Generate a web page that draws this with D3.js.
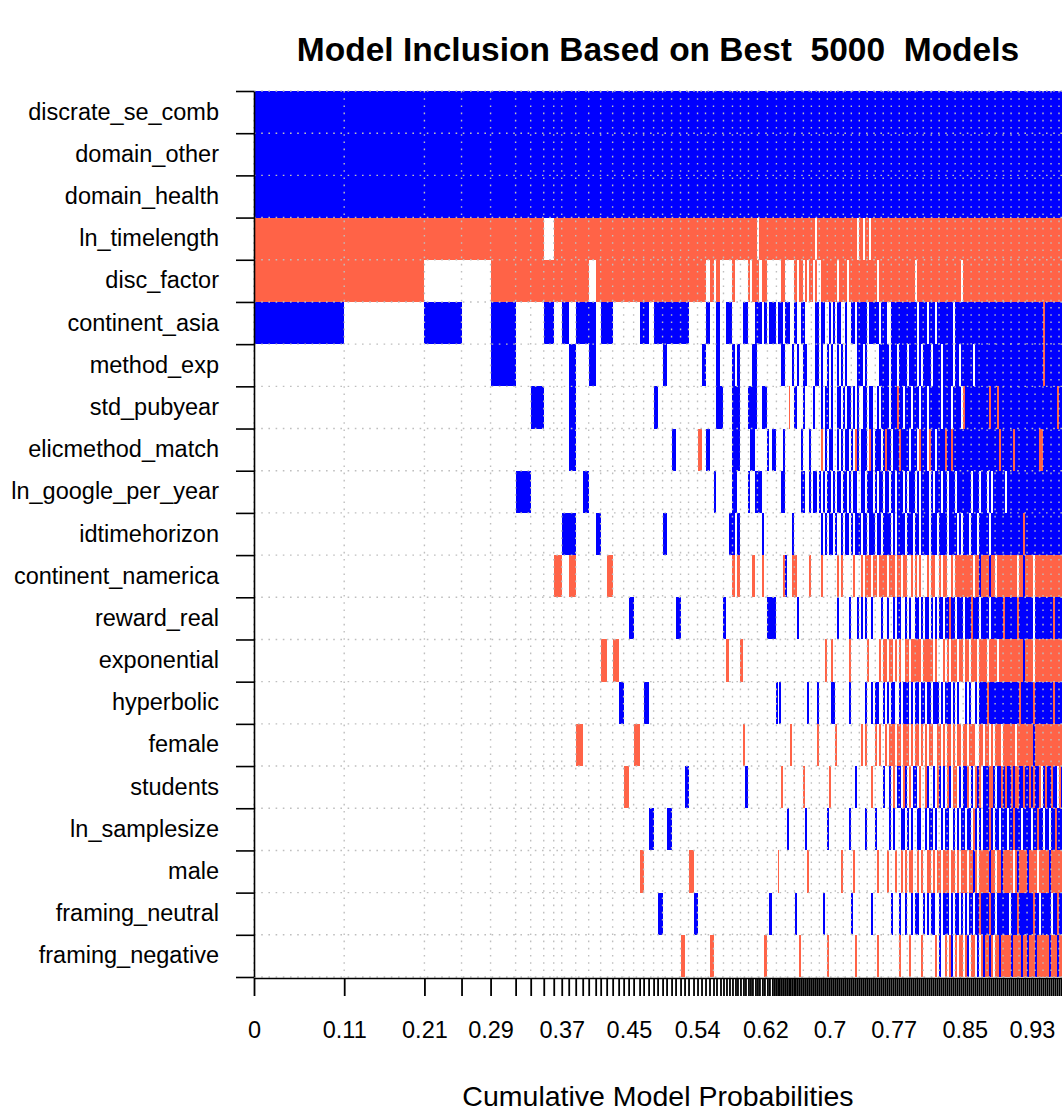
<!DOCTYPE html>
<html><head><meta charset="utf-8">
<script src="https://cdn.jsdelivr.net/npm/d3@7"></script>
<style>
body{margin:0;background:#fff}
text{font-family:"Liberation Sans",Arial,Helvetica,sans-serif;fill:#000}
</style>
</head><body>
<svg id="c" width="1062" height="1113"></svg>
<script>
// ---------------- data ----------------
const title = "Model Inclusion Based on Best  5000  Models";
const xTitle = "Cumulative Model Probabilities";

const variables = ["discrate_se_comb","domain_other","domain_health","ln_timelength","disc_factor",
  "continent_asia","method_exp","std_pubyear","elicmethod_match","ln_google_per_year","idtimehorizon",
  "continent_namerica","reward_real","exponential","hyperbolic","female","students","ln_samplesize",
  "male","framing_neutral","framing_negative"];

// posterior model probabilities of the individually visible best models
const pmpBest = [
 0.1084,0.0964,0.0446,0.0349,0.0301,0.0181,0.0157,0.0120,0.0096,0.0084,
 0.0084,0.0084,0.0072,0.0084,0.0060,0.0072,0.0072,0.0072,0.0060,0.0060,
 0.0060,0.0072,0.0048,0.0060,0.0060,0.0048,0.0060,0.0048,0.0060,0.0048,
 0.0060,0.0048,0.0048,0.0060,0.0048,0.0048,0.0048,0.0048,0.0048,0.0036,
 0.0048,0.0036,0.0036,0.0036,0.0036,0.0036,0.0024,0.0036,0.0036,0.0024,
 0.0036,0.0024,0.0024,0.0036,0.0024,0.0024,0.0036,0.0024,0.0036,0.0024,
 0.0036,0.0024,0.0024,0.0024,0.0012,0.0024,0.0024,0.0024,0.0024,0.0024,
 0.0012,0.0024,0.0024,0.0012,0.0024,0.0024,0.0024,0.0024,0.0024];

// remaining models, grouped into narrow slices of the tail
const pmpTail = [
 0.0024,0.0024,0.0024,0.0024,0.0024,0.0024,0.0024,0.0024,0.0024,0.0024,
 0.0024,0.0024,0.0024,0.0024,0.0024,0.0024,0.0024,0.0024,0.0024,0.0024,
 0.0024,0.0024,0.0024,0.0024,0.0024,0.0024,0.0024,0.0024,0.0024,0.0024,
 0.0024,0.0024,0.0024,0.0024,0.0024,0.0024,0.0024,0.0024,0.0024,0.0024,
 0.0024,0.0024,0.0024,0.0024,0.0024,0.0024,0.0024,0.0024,0.0024,0.0024,
 0.0024,0.0024,0.0024,0.0024,0.0024,0.0024,0.0024,0.0024,0.0024,0.0024,
 0.0024,0.0024,0.0024,0.0024,0.0024,0.0024,0.0024,0.0024,0.0024,0.0024,
 0.0024,0.0024,0.0024,0.0024,0.0024,0.0024,0.0024,0.0024,0.0024,0.0024,
 0.0024,0.0024,0.0024,0.0024,0.0024,0.0024,0.0024,0.0024,0.0024,0.0024,
 0.0024,0.0024,0.0024,0.0024,0.0024,0.0024,0.0024,0.0024,0.0024,0.0024,
 0.0024,0.0024,0.0024,0.0024,0.0024,0.0024,0.0024,0.0024,0.0024,0.0024,
 0.0024,0.0024,0.0024,0.0024,0.0024,0.0024,0.0024,0.0024,0.0024,0.0024,
 0.0024,0.0024,0.0024,0.0024,0.0024,0.0024,0.0024,0.0024,0.0012];

// inclusion per variable for best models: b = positive sign, r = negative sign, . = not included
const inclusionBest = [
 "bbbbbbbbbb bbbbbbbbbb bbbbbbbbbb bbbbbbbbbb bbbbbbbbbb bbbbbbbbbb bbbbbbbbbb bbbbbbbbb",
 "bbbbbbbbbb bbbbbbbbbb bbbbbbbbbb bbbbbbbbbb bbbbbbbbbb bbbbbbbbbb bbbbbbbbbb bbbbbbbbb",
 "bbbbbbbbbb bbbbbbbbbb bbbbbbbbbb bbbbbbbbbb bbbbbbbbbb bbbbbbbbbb bbbbbbbbbb bbbbbbbbb",
 "rrrrrrr.rr rrrrrrrrrr rrrrrrrrrr rrrrrrrrrr rrrrrrrrrr rrrrr.rrrr rrrrrrrrrr rrrrrrrrr",
 "rr..rrrrrr rrr.rrrrrr rrrrrrrrrr rrrrrrr.r. r....r.... .r.rrr.rr. ......rr.. ...rr.rr.",
 "b.b.b..b.b .bbb.bb... ..bb.bbbbb bbb....b.. b..bb....b b...bbb.b. bbb.bbb.bb b..bb..bb",
 "....b..... b..b...... .......b.. ......b... b....b.b.. ...bb..... ......bb.. ..b..b..b",
 "......b... b......... .....b.... .......... bb...bbb.. .bbbb..bb. .......... r..bb...b",
 ".......... b......... .........b .....r.b.. .....bbb.. ..bb.....b .bb....b.. .......b.",
 ".....b.... ..b....... .......... .........b .....bb... .b..bbb... ......bb.. .......bb",
 ".........b b...b..... .......b.. .......... ....bb.b.. .......b.. .......... ..b......",
 "........r. r.....r... .......... .......... .....r.r.. ...r...r.. .......rb. ..rrr....",
 ".......... .......... b......... b......... ..b....... .........b bbb....... .....b...",
 ".......... .....r.r.. .......... .......... ...r....r. .......... .......... .........",
 ".......... ........b. ...b...... .......... .......... .......... ...b.b.... .........",
 ".......... .r........ .r........ .......... .........r .......... .......... .r.......",
 ".......... .........r .......... ..b....... .......... b......... ......r... ........r",
 ".......... .......... ....b...b. .......... .......... .......... .........b .........",
 ".......... .......... ..r....... ...r...... .......... .......... ....r..... .........",
 ".......... .......... ......b... ....b..... .......... .......... b......... ....b....",
 ".......... .......... .......... .r......r. .......... ........r. .......... ......r.."];

const inclusionTail = [
 "bbbbbbbbbb bbbbbbbbbb bbbbbbbbbb bbbbbbbbbb bbbbbbbbbb bbbbbbbbbb bbbbbbbbbb bbbbbbbbbb bbbbbbbbbb bbbbbbbbbb bbbbbbbbbb bbbbbbbbbb bbbbbbbbb",
 "bbbbbbbbbb bbbbbbbbbb bbbbbbbbbb bbbbbbbbbb bbbbbbbbbb bbbbbbbbbb bbbbbbbbbb bbbbbbbbbb bbbbbbbbbb bbbbbbbbbb bbbbbbbbbb bbbbbbbbbb bbbbbbbbb",
 "bbbbbbbbbb bbbbbbbbbb bbbbbbbbbb bbbbbbbbbb bbbbbbbbbb bbbbbbbbbb bbbbbbbbbb bbbbbbbbbb bbbbbbbbbb bbbbbbbbbb bbbbbbbbbb bbbbbbbbbb bbbbbbbbb",
 "rrrrr.rrrr rrrrrrrrrr rrrrrr.rr. rr.rrrrrrr rrrrrrrrrr rrrrrrrrrr rrrrrrrrrr rrrrrrrrrr rrrrrrrrrr rrrrrrrrrr rrrrrrrrrr rrrrrrrrrr rrrrrrrrr",
 "r.rr.r..rr rrrrrr.rrr r.rrrrrrrr rrrrrr.rrr rrrrrrrrrr rrrrr.rrrr rrrrrrrrrr rrrrrrrr.r rrrrrrrrrr rrrrrrrrrr rrrrrrrrrr rrrrrrrrrr rrrrrrrrr",
 ".....bb.bb ..b.b.bb.. b..bb.bbbb b.bbbbb.bb b..bbbbbbb bbbbbb.bbb b.bbb.bbbb bbbb.bbbbb bbbbbbbbbb bbbbbbbbbb bbbbbbbbbb bbbbbbbbbr bbbbbbbbb",
 "b....bb.b. .b.b..b.b. b.....bbb. b......bbb bb.bbb.bbb b.bbbb.b.b bbb.bbbb.b bbbb.bb.bb bbbb.bbbbb bbbbbbbbbb bbbbbbbbbb bbbbbbbbbr bbbbbbbbb",
 "....b...b. bb.b..bb.b .bb.b.b..b b.bb..b.bb bb.bbbrbb. bbb.bbb.bb b.bbbbbb.b bbb.bbbb.r bbbbbbbbbb bbrbbbrbbb bbbbbbbbbb bbbbbbbbbb bbbbbbrbb",
 "..b.....r. b.bb..b.b. bb.b.rb.bb b.rb.bbb.b rbb.bbbrbb bb.bbb.rbb b.rbb.bbbb rbbrbbbbbb bbbbbbbbbb bbbbbbbrbb bbbbrbbbbb bbbbbbbrrb bbbbbbbbb",
 "..b.bb.b.b .bb.b.bb.b b.b.bb..bb .bbb.b.bb. bb.bb.bbb. b.bbb.b.bb bb.b.bbb.b b.bbb.bbbb bbb.bbb.bb b.b.bbbbbb .bbbbbbbbb bbbbbbbbbb bbbbbbbbb",
 "........b. b.bb.b..b. bb.b.bbb.b b.bbb.bb.b bbb.b.bbbb .bbb.bb.bb bb.bbb.bbb b.bbbb.b.b bb.bbb.bbb bb.bbbbbbb bbbbbbbbbr bbbbbbbbbb bbbbbbbbb",
 "..r.....r. ......r.r. ....r...r. rrr.rr.rrr r.rrr.rr.r r..r.r.r.. .r.rr..r.r r..r.rrrrr rrrr.rrbrr rrbrr.rrrr rrrrrr.rrb rrrr.rrrrr rrrrrrrrr",
 ".......... ......b... ..b...b.b. b..b....b. .b..b.bb.. b.b..bb.b. bb.b.b.bb. bbrbb.bbb. bbbrbbb.bb bb.bbbbbbr bbbbbbrbbb bbbb.bbbbb bbbbrbbbb",
 ".......... r..r...... ..r....... .r.....r.r r.rr.r.r.. rr.rrrrr.r rrrr.r...r .r.rrr.rr. rr.rrr.rrr r.rrrr.rrr rrrrrrrrrb rrrr.rrrrr rrrrrrrrr",
 ".b....b... ...bb..... ..b....... b..b.bb..b .b.bb..b.b bb.b.bb.bb .bb.bbb.b. bbb.b.b... b.b..b.bbb brbbbbbbbb bbbbbbbrbb bbbbrbbbbb bbbbrbbbb",
 "......r... .....r.... ........r. r....r.r.. r.rrr.rr.r rr.r.rr.r. r.rr..rr.r .rr.r.rr.r r.rrr..rr. rr.r.rrr.r rrrrr.rrrr rrrrbrrrrr rrrrrrrrr",
 ".......... ..r....... .....b.... ...r.....b ..b.r.bb.r b.r.bb.r.. rb..b.rb.b .rb.rr.b.b br.b.rbr.b bbrrb.bbrb rbbrbrrbbr bbrbrbbr.b rbbrbb.rb",
 "b......... .b........ ..b....... b....b.... ..b.b...bb .b.b..bb.. b.bb.b..b. bb..b.b.bb .bb.rb.b.b bbrb.bb.bb b.bbrbbb.b bbb.bbrbb. bb.bbrbbb",
 ".r........ ........r. ....r..... ......r... .r...r..r. r.rr..r.r. .rr.r.rr.r rr.rr.r.rr r.rrbr.rrr rrbrr.rrbr rrrr.rbrrr rbrrrr.rrr rrbrrrrrr",
 ".........b .......... ...b...... ...b...... ...b...b.. b..b.bb..b .b.bb..b.b bb.b.bb.b. b.bb.bbrbb bbrbb.bbbb bb.bbbrbbb bbbbrbb.bb bbb.bbrbb",
 ".......... .r........ .....r.... ......r... .......r.. ..r.....r. .....r.b.. r.rb.r.rr. rb.rr.b.rb rrbr.rrbrr rrrbrrrrbr rbrrrbrrrr rrbrrrbrr"];

// x-axis labels and the cumulative probability at which each one sits
const tickLabels = ["0","0.11","0.21","0.29","0.37","0.45","0.54","0.62","0.7","0.77","0.85","0.93"];
const tickAt     = [0, 0.1084, 0.2048, 0.2843, 0.3699, 0.4506, 0.5325, 0.6145, 0.6916, 0.7687, 0.8542, 0.9349];

const signColors = {b:"#0000FF", r:"#FF6347"};

// ---------------- drawing ----------------
const W = 1062, H = 1113;
const margin = {left:254, right:0, top:91, bottom:136};
const svg = d3.select("#c");

const pmp = pmpBest.concat(pmpTail);
const cum = [0];
pmp.forEach((p,i)=>cum.push(cum[i]+p));
const total = cum[cum.length-1];

const x = d3.scaleLinear().domain([0,total]).range([margin.left, W-margin.right]);
const y = d3.scaleBand().domain(variables).range([margin.top, H-margin.bottom]);
const yEdge = d3.scaleLinear().domain([0,variables.length]).range([margin.top, H-margin.bottom]);

const rows = variables.map((v,i)=>(inclusionBest[i]+inclusionTail[i]).replace(/ /g,""));

// cells: merge consecutive models with the same sign
const cells = [];
rows.forEach((s,i)=>{
  let j=0;
  const n = Math.min(s.length, pmp.length);
  while(j<n){
    const c=s[j]; let k=j;
    while(k<n && s[k]===c) k++;
    if(c!=='.') cells.push({v:variables[i], c, a:cum[j], b:cum[k]});
    j=k;
  }
});

svg.append("g").selectAll("rect").data(cells).join("rect")
  .attr("x",d=>x(d.a)).attr("width",d=>Math.max(0.8,x(d.b)-x(d.a)))
  .attr("y",d=>y(d.v)).attr("height",y.bandwidth())
  .attr("fill",d=>signColors[d.c])
  .attr("shape-rendering","crispEdges");

// dotted grid: model boundaries (thinned where they crowd) and variable boundaries
const gridX=[]; let lastPx=-1e9;
cum.forEach(c=>{const px=x(c); if(px-lastPx>=7.2){gridX.push(c); lastPx=px;}});
const grid = svg.append("g").attr("stroke","#bebebe").attr("stroke-width",1.4)
  .attr("stroke-dasharray","1.6,5.6");
grid.selectAll("line.v").data(gridX).join("line").attr("class","v")
  .attr("x1",d=>x(d)).attr("x2",d=>x(d)).attr("y1",yEdge(0)).attr("y2",yEdge(variables.length));

// x axis (ticks at every model boundary)
const axB = svg.append("g").attr("transform",`translate(0,${yEdge(variables.length)+1})`)
  .call(d3.axisBottom(x).tickValues(cum).tickFormat("").tickSize(18).tickSizeOuter(0));
axB.selectAll("line").attr("stroke","#000").attr("stroke-width",1.8);
axB.select(".domain").attr("stroke","#000").attr("stroke-width",1.6);

const axL = svg.append("g").attr("transform",`translate(${margin.left},0)`)
  .call(d3.axisLeft(yEdge).tickValues(d3.range(variables.length+1)).tickFormat("").tickSize(18).tickSizeOuter(0));
axL.selectAll("line").attr("stroke","#000").attr("stroke-width",1.6);
axL.select(".domain").attr("stroke","#000").attr("stroke-width",1.6);

grid.selectAll("line.h").data(d3.range(variables.length+1)).join("line").attr("class","h")
  .attr("x1",x(0)).attr("x2",x(total)).attr("y1",d=>yEdge(d)).attr("y2",d=>yEdge(d));

// labels
const axY = svg.append("g").attr("transform",`translate(${margin.left},0)`)
  .call(d3.axisLeft(y).tickSize(0).tickPadding(35));
axY.select(".domain").remove();
axY.selectAll("text").attr("font-size","23.5px").attr("font-family","Liberation Sans, Arial, sans-serif").attr("fill","#000");

const axX = svg.append("g").attr("transform",`translate(0,${yEdge(variables.length)})`)
  .call(d3.axisBottom(x).tickValues(tickAt).tickFormat((d,i)=>tickLabels[i]).tickSize(0).tickPadding(44));
axX.select(".domain").remove();
axX.selectAll("text").attr("font-size","23.5px").attr("font-family","Liberation Sans, Arial, sans-serif").attr("fill","#000");

svg.append("text").attr("x",(x.range()[0]+x.range()[1])/2).attr("y",61)
  .attr("text-anchor","middle").attr("font-weight","bold").attr("font-size","33.5px")
  .attr("xml:space","preserve").style("white-space","pre").text(title);
svg.append("text").attr("x",(x.range()[0]+x.range()[1])/2).attr("y",1106)
  .attr("text-anchor","middle").attr("font-size","28.5px").text(xTitle);
</script>
</body></html>
